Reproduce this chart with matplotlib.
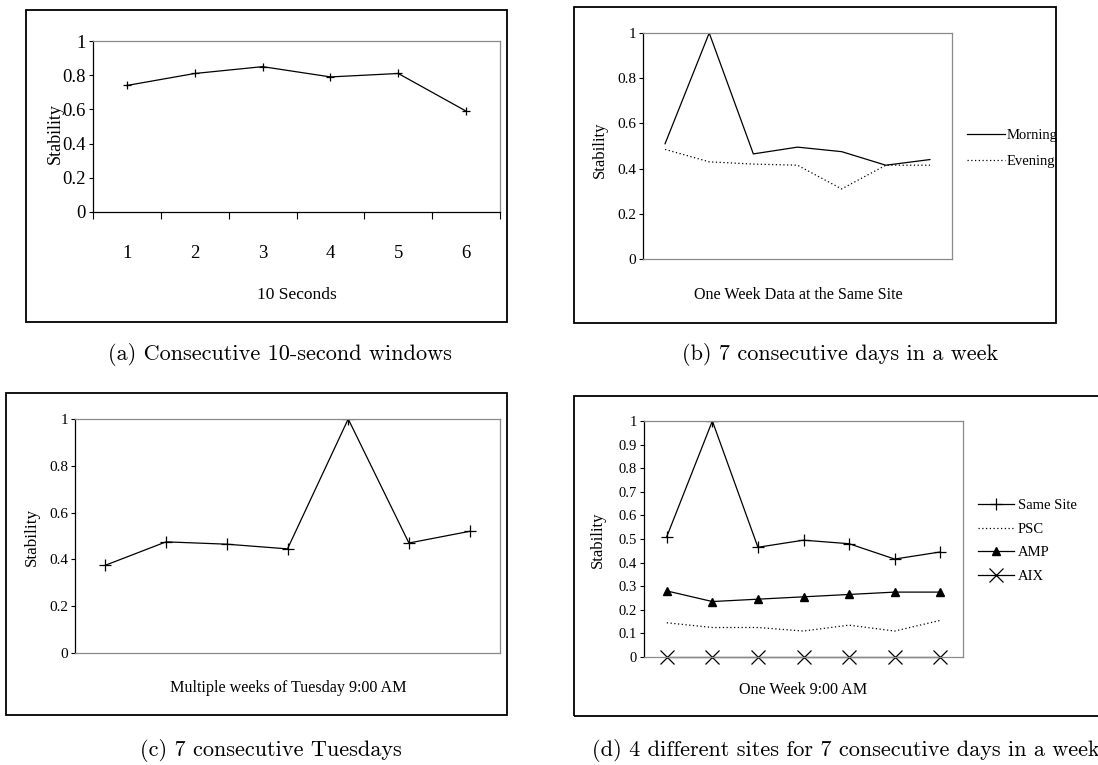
import matplotlib
matplotlib.use("Agg")
import matplotlib.pyplot as plt
from matplotlib.patches import Rectangle

plt.rcParams["font.family"] = ["Liberation Serif", "DejaVu Serif"]

W, H = 1098, 765

# (a) consecutive 10-second windows
win_labels = ["1", "2", "3", "4", "5", "6"]
win_stability = [0.74, 0.81, 0.85, 0.79, 0.81, 0.59]

# (b) one week at the same site
morning = [0.51, 1.0, 0.465, 0.495, 0.475, 0.415, 0.44]
evening = [0.485, 0.43, 0.42, 0.415, 0.31, 0.415, 0.415]

# (c) multiple Tuesdays 9:00 AM
tuesdays = [0.375, 0.475, 0.465, 0.445, 1.0, 0.47, 0.52]

# (d) four sites, one week 9:00 AM
same_site = [0.51, 1.0, 0.465, 0.495, 0.48, 0.415, 0.445]
psc = [0.145, 0.125, 0.125, 0.11, 0.135, 0.11, 0.155]
amp = [0.28, 0.235, 0.245, 0.255, 0.265, 0.275, 0.275]
aix = [0, 0, 0, 0, 0, 0, 0]

fig = plt.figure(figsize=(W / 100, H / 100), dpi=100)


def px_axes(x0, y0, x1, y1):
    return fig.add_axes([x0 / W, 1 - y1 / H, (x1 - x0) / W, (y1 - y0) / H])


def px_text(x, y, s, **kw):
    fig.text(x / W, 1 - y / H, s, ha="center", va="center", **kw)


def box(x0, y0, x1, y1):
    fig.patches.append(Rectangle((x0 / W, 1 - y1 / H), (x1 - x0) / W, (y1 - y0) / H,
                                 transform=fig.transFigure, fill=False,
                                 edgecolor="black", linewidth=1.3))


def style_axes(ax, n, yticks, fs, bottom_black=False):
    ax.set_xlim(0, n)
    ax.set_ylim(0, 1)
    ax.set_yticks(yticks)
    ax.set_yticklabels([("%g" % v) for v in yticks])
    ax.spines["left"].set_color("black")
    ax.spines["bottom"].set_color("black" if bottom_black else "#8a8a8a")
    ax.spines["top"].set_color("#8a8a8a")
    ax.spines["right"].set_color("#8a8a8a")
    for s in ax.spines.values():
        s.set_linewidth(0.9)
    ax.tick_params(axis="y", direction="out", length=3, width=0.8, pad=2, labelsize=fs)
    ax.set_xticks([])


CAP = 16  # caption size (LaTeX-like)

# ---- (a)
box(26, 10, 507, 322)
ax = px_axes(93, 41, 500, 212)
x = [i + 0.5 for i in range(len(win_stability))]
ax.plot(x, win_stability, color="black", lw=0.9, marker="+", ms=6, mew=0.9)
style_axes(ax, len(win_stability), [0, 0.2, 0.4, 0.6, 0.8, 1], 13.5, bottom_black=True)
ax.set_xticks(range(len(win_stability) + 1))
ax.set_xticklabels([])
ax.set_xticks(x, minor=True)
ax.set_xticklabels(win_labels, minor=True)
ax.tick_params(axis="x", which="major", direction="out", length=5, width=0.8)
ax.tick_params(axis="x", which="minor", length=0, pad=24, labelsize=13.5)
px_text(55, 134, "Stability", rotation=90, fontsize=13)
px_text(297, 295, "10 Seconds", fontsize=12.5)
px_text(280, 355, "(a) Consecutive 10-second windows", fontsize=CAP, family="cmr10")

# ---- (b)
box(574, 7, 1056, 323)
ax = px_axes(643, 33, 952, 259)
x = [i + 0.5 for i in range(len(morning))]
ax.plot(x, morning, color="black", lw=0.9, label="Morning")
ax.plot(x, evening, color="black", lw=0.9, ls=(0, (1, 2)), label="Evening")
style_axes(ax, len(morning), [0, 0.2, 0.4, 0.6, 0.8, 1], 11)
ax.legend(loc="center left", bbox_to_anchor=(967 / W, 1 - 148.5 / H),
          bbox_transform=fig.transFigure, frameon=False, fontsize=10.5,
          handlelength=2.6, handletextpad=0.15, borderpad=0, borderaxespad=0,
          labelspacing=0.85)
px_text(600, 150, "Stability", rotation=90, fontsize=12)
px_text(798, 295, "One Week Data at the Same Site", fontsize=11.6)
px_text(840, 355, "(b) 7 consecutive days in a week", fontsize=CAP, family="cmr10")

# ---- (c)
box(6, 393, 507, 715)
ax = px_axes(75, 419, 500, 653)
x = [i + 0.5 for i in range(len(tuesdays))]
ax.plot(x, tuesdays, color="black", lw=0.9, marker="+", ms=9, mew=0.9)
style_axes(ax, len(tuesdays), [0, 0.2, 0.4, 0.6, 0.8, 1], 11)
px_text(32, 537, "Stability", rotation=90, fontsize=12.3)
px_text(288, 688, "Multiple weeks of Tuesday 9:00 AM", fontsize=11.6)
px_text(271, 750, "(c) 7 consecutive Tuesdays", fontsize=CAP, family="cmr10")

# ---- (d)
box(574, 396, 1110, 716)
ax = px_axes(644, 421, 963, 657)
x = [i + 0.5 for i in range(len(same_site))]
ax.plot(x, same_site, color="black", lw=0.9, marker="+", ms=9, mew=0.9, label="Same Site")
ax.plot(x, psc, color="black", lw=0.9, ls=(0, (1, 2)), label="PSC")
ax.plot(x, amp, color="black", lw=0.9, marker="^", ms=6, label="AMP")
ax.plot(x, aix, color="black", lw=0.9, marker="x", ms=10, mew=0.9, label="AIX",
        clip_on=False)
style_axes(ax, len(same_site), [i / 10 for i in range(11)], 10.5)
ax.legend(loc="center left", bbox_to_anchor=(978 / W, 1 - 541 / H),
          bbox_transform=fig.transFigure, frameon=False, fontsize=10.5,
          handlelength=2.5, handletextpad=0.25, borderpad=0, borderaxespad=0,
          labelspacing=0.7)
px_text(598, 540, "Stability", rotation=90, fontsize=12)
px_text(803, 690, "One Week 9:00 AM", fontsize=11.6)
px_text(846, 750, "(d) 4 different sites for 7 consecutive days in a week", fontsize=CAP,
        family="cmr10")

fig.savefig("out.png", dpi=100)
